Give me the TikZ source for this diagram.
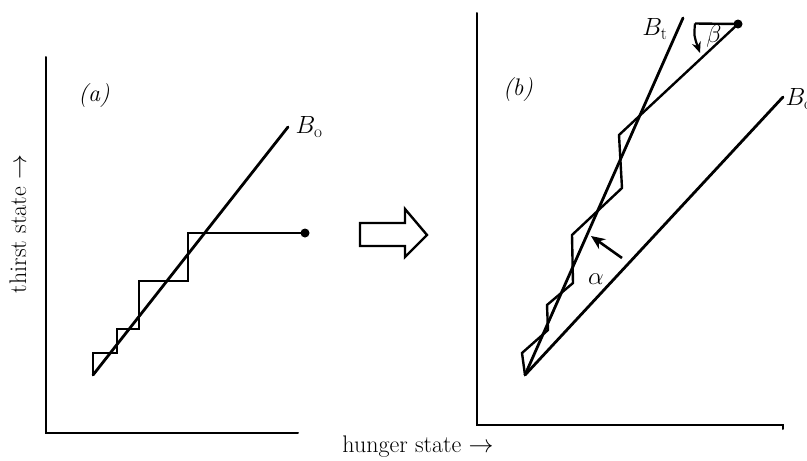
\documentclass[tikz,border=0pt]{standalone}
\usetikzlibrary{arrows.meta}
\begin{document}
\begin{tikzpicture}[x=1pt,y=-1pt,
  axis/.style={line width=2pt,line cap=round},
  curve/.style={line width=2.8pt,line join=miter,line cap=round},
  path/.style={line width=2.4pt,line join=miter},
  dotn/.style={circle,fill=black,inner sep=0pt,minimum size=9pt},
  lab/.style={font=\fontsize{24}{28}\selectfont},
  axlab/.style={font=\fontsize{24}{28}\selectfont},
  blockarrow/.style={line width=2.4pt,line join=miter}]
\useasboundingbox (0,0) rectangle (807,461);
% ---------- panel (a)
\coordinate (ay) at (45.5,57);
\coordinate (ao) at (45.5,433);
\coordinate (ax) at (298,433);
\draw[axis] (ay) -- (ao) -- (ax);
\node[lab] (la) at (94,96) {\textit{(a)}};
\coordinate (a0) at (93,375);
\coordinate (a1) at (288,127);
\draw[curve] (a0) -- (a1);
\node[lab,anchor=west] (Bo) at (292,127) {$B_{\mathrm{o}}$};
\node[dotn] (adot) at (305,233) {};
\draw[path] (a0) -- (93,353) -- (117,353) -- (117,329) -- (139,329) -- (139,281)
  -- (188,281) -- (188,233) -- (adot.center);
% ---------- block arrow
\draw[blockarrow] (360,223) -- (405,223) -- (405,209) -- (427,235) -- (405,257)
  -- (405,246) -- (360,246) -- cycle;
% ---------- panel (b)
\coordinate (by) at (477,13);
\coordinate (bo) at (477,425);
\coordinate (bx) at (783,425);
\draw[axis] (by) -- (bo) -- (bx) -- ++(0,4);
\node[lab] (lb) at (518,90) {\textit{(b)}};
\coordinate (b0) at (525,375);
\coordinate (bt) at (683,18);
\coordinate (bb) at (783,97);
\draw[curve] (b0) -- (bt);
\draw[curve] (b0) -- (bb);
\node[lab,anchor=east] (Bt) at (671,29) {$B_{\mathrm{t}}$};
\node[lab,anchor=west] (Bo2) at (782,99) {$B_{\mathrm{o}}$};
\node[dotn] (bdot) at (738,24) {};
\coordinate (q1) at (522,353);
\coordinate (q2) at (548,330);
\coordinate (q3) at (547,305);
\coordinate (q4) at (573,283);
\coordinate (q5) at (572,235);
\coordinate (q6) at (622,188);
\coordinate (q7) at (619,135);
\draw[path] (b0) -- (q1) -- (q2) -- (q3) -- (q4) -- (q5) -- (q6) -- (q7) -- (bdot.center);
% beta
\coordinate (bh) at (695,23.5);
\coordinate (be) at (700,53);
\draw[path] (bdot.center) -- (bh);
\draw[line width=2.2pt,-{Stealth[length=11pt,width=9pt]}] (bh) .. controls (694,36) .. (be);
\node[lab] (beta) at (714,36) {$\beta$};
% alpha
\coordinate (al0) at (622,258);
\coordinate (al1) at (591,236);
\draw[line width=2.6pt,-{Stealth[length=14pt,width=12pt]}] (al0) -- (al1);
\node[lab] (alpha) at (596,279) {$\alpha$};
% axis labels
\node[axlab,rotate=90] (ty) at (18,224) {thirst state $\rightarrow$};
\node[axlab] (hx) at (418,447) {hunger state $\rightarrow$};
\end{tikzpicture}
\end{document}
